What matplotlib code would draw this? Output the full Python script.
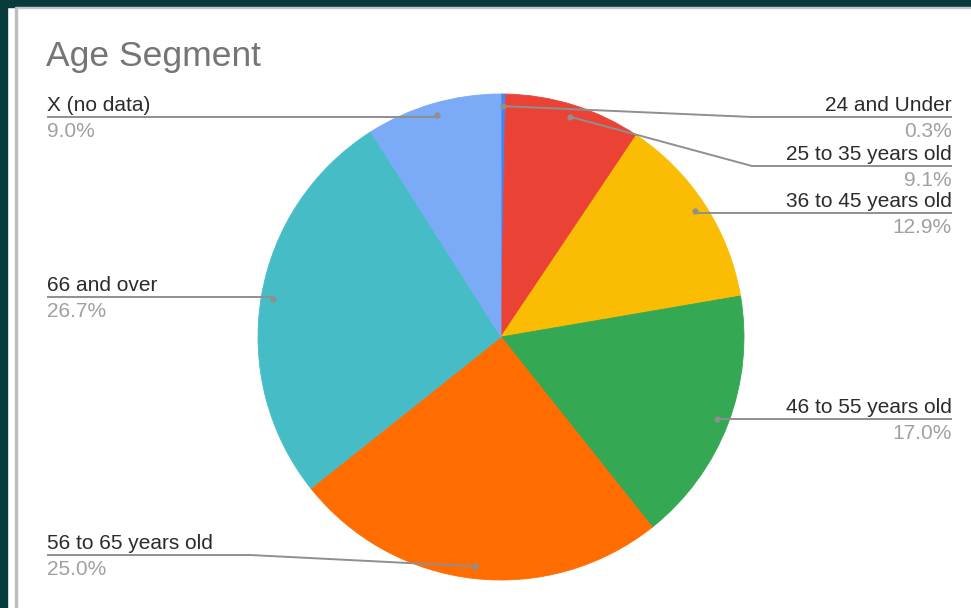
import numpy as np
import matplotlib
matplotlib.use("Agg")
import matplotlib.pyplot as plt
from matplotlib.patches import Rectangle

# chart data
categories = ["24 and Under", "25 to 35 years old", "36 to 45 years old",
              "46 to 55 years old", "56 to 65 years old", "66 and over",
              "X (no data)"]
shares = [0.3, 9.1, 12.9, 17.0, 25.0, 26.7, 9.0]
pct_labels = ["0.3%", "9.1%", "12.9%", "17.0%", "25.0%", "26.7%", "9.0%"]
colors = ["#4285F4", "#EA4335", "#FBBC04", "#34A853", "#FF6D01", "#46BDC6",
          "#7BAAF7"]

# layout (pixels, y measured from the top of the picture)
W, H = 971, 608
cx, cy, R = 501, 337, 243
label_rows = [117, 166, 213, 419, 555, 297, 117]
right_edge, left_edge = 952, 47
bend_off = 251

plt.rcParams['font.family'] = ['Liberation Sans', 'DejaVu Sans']

fig = plt.figure(figsize=(W / 100, H / 100), dpi=100)
fig.patch.set_facecolor("white")
ax = fig.add_axes([0, 0, 1, 1])

wedges, _ = ax.pie(shares, colors=colors, startangle=90, counterclock=False,
                   center=(cx, H - cy), radius=R,
                   wedgeprops=dict(linewidth=0.6, edgecolor="none"))
for w, c in zip(wedges, colors):
    w.set_edgecolor(c)

ax.set_xlim(0, W)
ax.set_ylim(0, H)
ax.set_aspect("equal", adjustable="box")
ax.axis("off")

line_col = "#8f8f8f"
for w, name, pct, row in zip(wedges, categories, pct_labels, label_rows):
    mid = np.deg2rad((w.theta1 + w.theta2) / 2)
    dx, dy = cx + 0.95 * R * np.cos(mid), (H - cy) + 0.95 * R * np.sin(mid)
    ly = H - row
    if np.cos(mid) >= 0:
        bx = cx + bend_off
        xs = [dx, max(bx, dx), right_edge]
        tx, ha = right_edge, "right"
    else:
        bx = cx - bend_off
        xs = [dx, min(bx, dx), left_edge]
        tx, ha = left_edge, "left"
    # nearly level leaders are drawn straight
    if abs(dy - ly) < 4:
        xs, ys = [dx, xs[-1]], [ly, ly]
    else:
        ys = [dy, ly, ly]
    ax.plot(xs, ys, color=line_col, lw=1.4, solid_capstyle="butt", zorder=3)
    ax.plot([dx], [dy], "o", color=line_col, ms=4.5, mew=0, zorder=4)
    ax.text(tx, ly + 6, name, ha=ha, va="baseline", fontsize=15,
            color="#2b2b2b", zorder=5)
    ax.text(tx, ly - 20, pct, ha=ha, va="baseline", fontsize=15,
            color="#a0a0a0", zorder=5)

ax.text(left_edge - 1, H - 66, "Age Segment", ha="left", va="baseline",
        fontsize=25.5, color="#757575")

# screenshot frame: dark app border and sheet gutter
dark = "#073b3c"
fig.patches.append(Rectangle((0, 0), 7 / W, 1, transform=fig.transFigure,
                             color=dark, zorder=10))
fig.patches.append(Rectangle((0, 1 - 7 / H), 1, 7 / H,
                             transform=fig.transFigure, color=dark, zorder=10))
fig.patches.append(Rectangle((15 / W, 0), 1.5 / W, 1 - 7 / H,
                             transform=fig.transFigure, color="#bdbdbd",
                             zorder=10))
fig.patches.append(Rectangle((16.5 / W, 1 - 8 / H), 1, 1 / H,
                             transform=fig.transFigure, color="#c8c8c8",
                             zorder=10))

fig.savefig("out.png", dpi=100)
